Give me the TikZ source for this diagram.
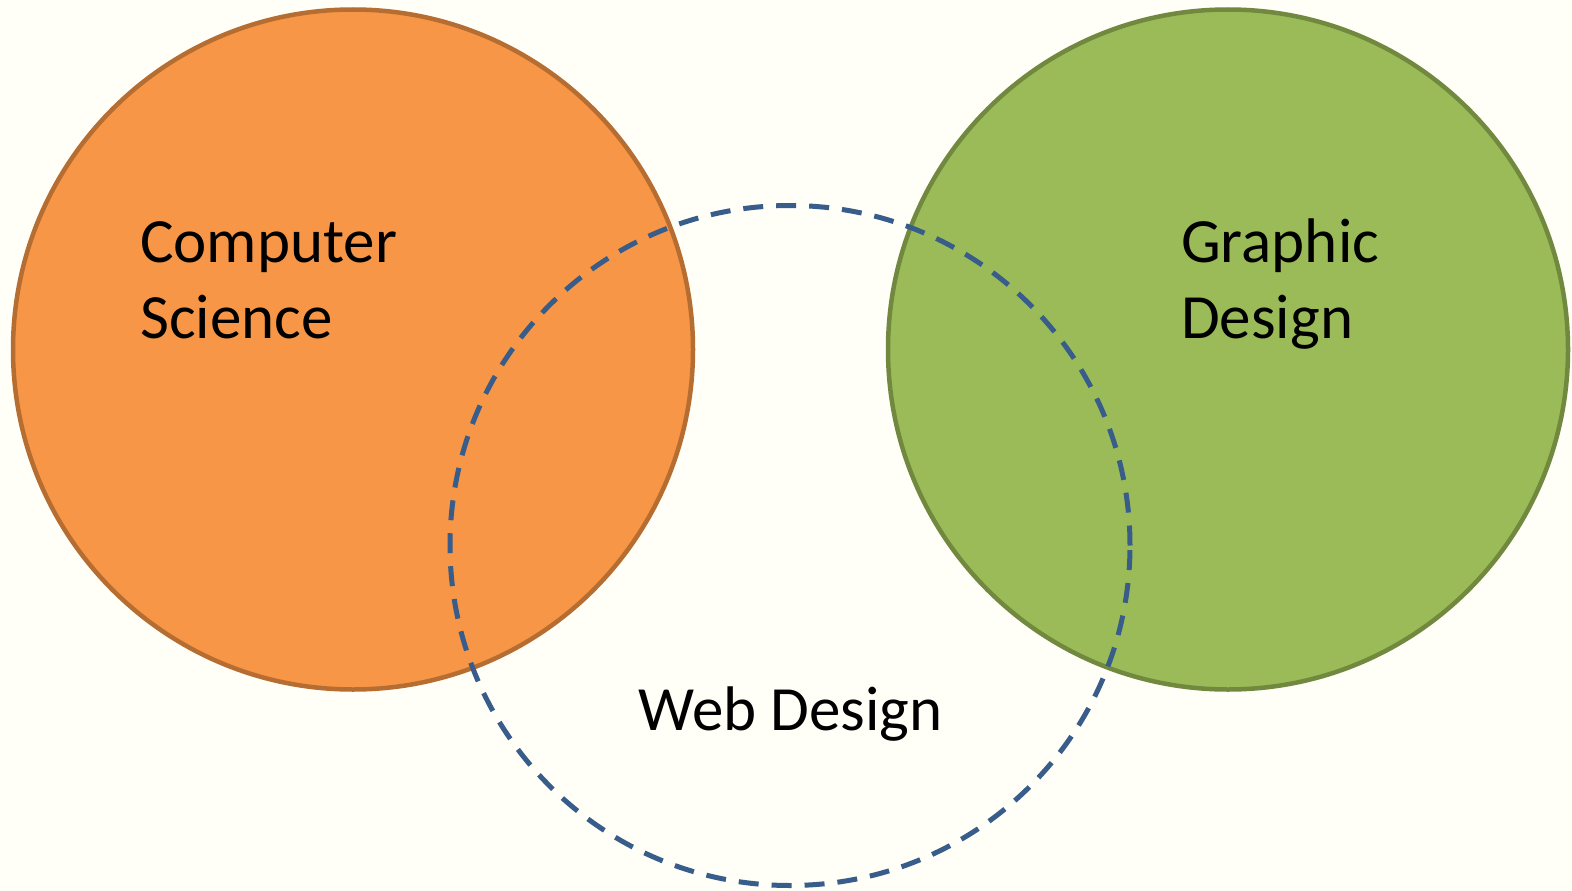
\documentclass[tikz,border=0pt]{standalone}
\usepackage{fontspec}
\setmainfont{Carlito}
\usepackage{tikz}

\definecolor{bgcream}{HTML}{FFFEF7}
\definecolor{csfill}{HTML}{F79646}
\definecolor{csline}{HTML}{B66D31}
\definecolor{gdfill}{HTML}{9BBB59}
\definecolor{gdline}{HTML}{71893F}
\definecolor{webline}{HTML}{385D8A}

\tikzset{
  setcircle/.style={circle, inner sep=0pt, minimum size=680pt, line width=4.5pt},
  setlabel/.style={anchor=base west, inner sep=0pt, align=left,
    font=\fontsize{63}{76}\selectfont}
}

\begin{document}
\begin{tikzpicture}[x=1pt,y=1pt,yscale=-1,xscale=1]
% Background
\fill[bgcream] (0,0) rectangle (1572,891);
\useasboundingbox (0,0) rectangle (1572,891);

% Circle
\node[setcircle, draw=csline, fill=csfill] (cs) at (353,349.5) {};
% Circle
\node[setcircle, draw=gdline, fill=gdfill] (gd) at (1228,349.5) {};
% Circle
\node[setcircle, draw=webline, line width=5pt, dash pattern={on 20pt off 13pt}] (web) at (790,545.5) {};

% Text Node
\node[setlabel] (cstext) at (140,338) {Computer\\Science};
% Text Node
\node[setlabel] (gdtext) at (1181,338) {Graphic\\Design};
% Text Node
\node[setlabel] (webtext) at (638,730) {Web Design};

\end{tikzpicture}
\end{document}
